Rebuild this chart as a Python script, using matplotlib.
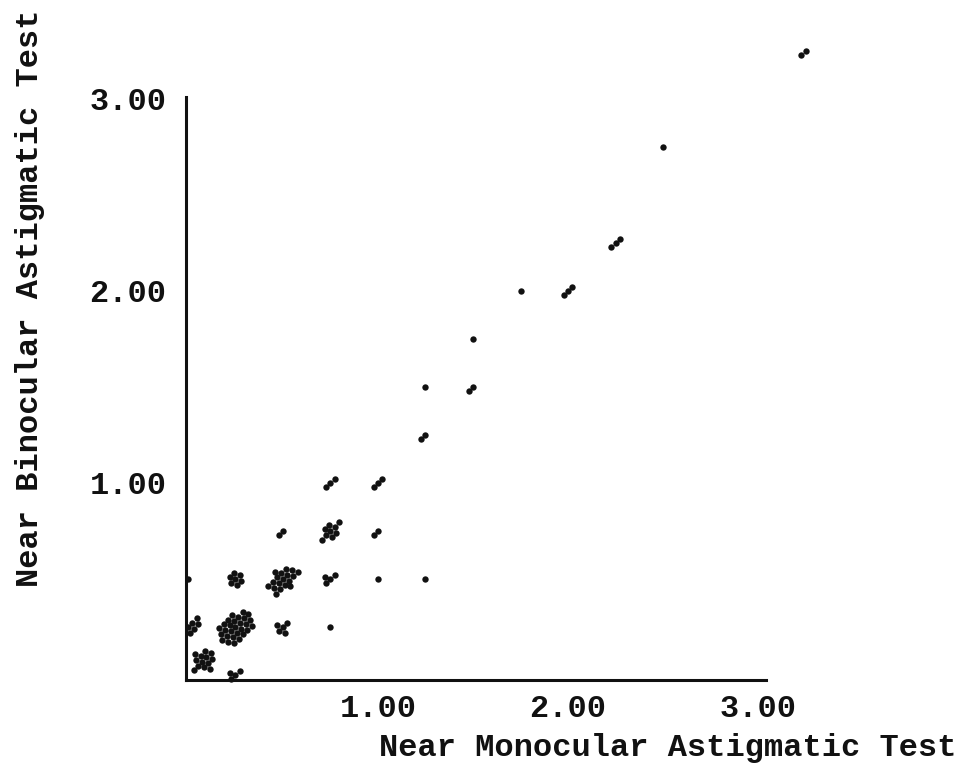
import numpy as np
import matplotlib
matplotlib.use("Agg")
import matplotlib.pyplot as plt
from matplotlib.transforms import Affine2D, ScaledTranslation

# Near monocular vs near binocular astigmatic test (diopters)
# each entry is a cluster of identical readings, count = number of cases
mono = [0, 0, 0, 0.25, 0.25, 0.25, 0.5, 0.5, 0.5, 0.75, 0.75, 0.75, 0.75,
        1.0, 1.0, 1.0, 1.25, 1.25, 1.25, 1.5, 1.5, 1.75, 2.0, 2.25, 2.5, 3.25]
bino = [0, 0.25, 0.5, 0, 0.25, 0.5, 0.25, 0.5, 0.75, 0.25, 0.5, 0.75, 1.0,
        0.5, 0.75, 1.0, 0.5, 1.25, 1.5, 1.5, 1.75, 2.0, 2.0, 2.25, 2.75, 3.25]
counts = [13, 6, 1, 4, 28, 7, 5, 18, 2, 1, 4, 9, 3,
          1, 2, 3, 1, 2, 1, 2, 1, 1, 3, 3, 1, 2]

x_ticks = [1, 2, 3]
y_ticks = [1, 2, 3]
tick_labels = ["1.00", "2.00", "3.00"]

plt.rcParams['font.family'] = ['Liberation Mono', 'DejaVu Sans Mono']

fig = plt.figure(figsize=(9.62, 7.73), dpi=100)
ax = fig.add_axes([0.1933, 0.1203, 0.603, 0.7542])
ax.set_xlim(-0.0105, 3.042)
ax.set_ylim(-0.026, 3.01)

for side in ["top", "right"]:
    ax.spines[side].set_visible(False)
for side in ["left", "bottom"]:
    ax.spines[side].set_linewidth(2.2)
    ax.spines[side].set_color("#111111")

# hex lattice of offsets (points), stretched along the diagonal
step = 4.4
pts = []
for j in range(-8, 9):
    for i in range(-10, 11):
        u = (i + 0.5 * (j % 2)) * step
        v = j * step * 0.866
        pts.append((u, v))
pts = np.array(pts)
order = np.argsort((pts[:, 0] / 1.6) ** 2 + pts[:, 1] ** 2 + 1e-3 * pts[:, 0])
pts = pts[order]
c, s = np.cos(np.pi / 4), np.sin(np.pi / 4)
offs_all = np.column_stack([pts[:, 0] * c - pts[:, 1] * s,
                            pts[:, 0] * s + pts[:, 1] * c])

to_px = Affine2D().scale(1 / 72.0) + fig.dpi_scale_trans
for xm, yb, n in zip(mono, bino, counts):
    offs = offs_all
    if n > 1 and xm == 0:
        offs = offs[offs[:, 0] >= 0]
    if n > 1 and xm == 0 and yb == 0:
        offs = offs[offs[:, 1] >= 0] + np.array([4.0, 3.5])
    offs = offs[:n]
    tr = to_px + ScaledTranslation(xm, yb, ax.transData)
    ax.scatter(offs[:, 0], offs[:, 1], s=21, color="#111111",
               linewidths=0, transform=tr, clip_on=False, zorder=3)

ax.set_xticks(x_ticks)
ax.set_xticklabels(tick_labels)
ax.set_yticks(y_ticks)
ax.set_yticklabels(tick_labels)
ax.tick_params(length=0, labelsize=23, colors="#111111")
ax.tick_params(axis="x", pad=10)
ax.tick_params(axis="y", pad=14)
for t in ax.get_xticklabels() + ax.get_yticklabels():
    t.set_fontweight("bold")

fig.text(0.694, 0.032, "Near Monocular Astigmatic Test", ha="center",
         va="center", fontsize=23, fontweight="bold", color="#111111")
fig.text(0.031, 0.614, "Near Binocular Astigmatic Test", ha="center",
         va="center", rotation=90, fontsize=23, fontweight="bold",
         color="#111111")

fig.savefig("out.png", dpi=100)
